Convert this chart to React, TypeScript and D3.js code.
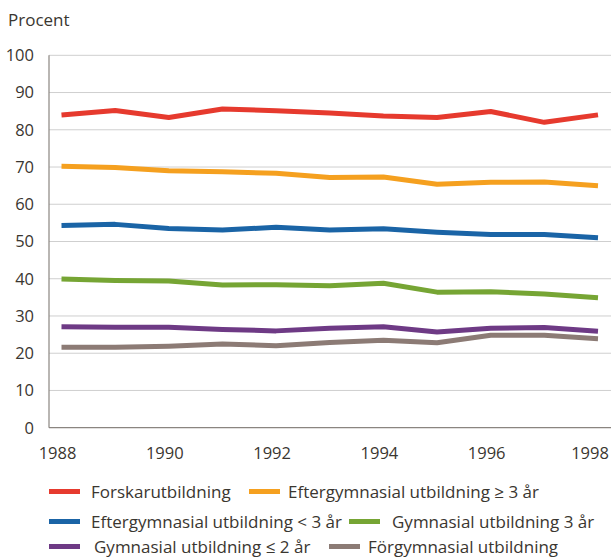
import React from "react";
import * as d3 from "d3";

const years = [1988, 1989, 1990, 1991, 1992, 1993, 1994, 1995, 1996, 1997, 1998];
const xTickYears = [1988, 1990, 1992, 1994, 1996, 1998];
const yTicks = [0, 10, 20, 30, 40, 50, 60, 70, 80, 90, 100];

const seriesNames = [
  "Forskarutbildning",
  "Eftergymnasial utbildning ≥ 3 år",
  "Eftergymnasial utbildning < 3 år",
  "Gymnasial utbildning 3 år",
  "Gymnasial utbildning ≤ 2 år",
  "Förgymnasial utbildning",
];
const seriesColors = ["#e63a2e", "#f5a01f", "#1a64a6", "#76a534", "#6e3a85", "#8c7b75"];

const forskar = [84.0, 85.2, 83.3, 85.6, 85.1, 84.5, 83.7, 83.3, 84.9, 82.0, 84.0];
const efterLong = [70.2, 69.9, 69.0, 68.7, 68.3, 67.2, 67.3, 65.4, 65.9, 66.0, 65.0];
const efterShort = [54.3, 54.6, 53.5, 53.1, 53.8, 53.1, 53.4, 52.5, 51.9, 51.9, 51.0];
const gym3 = [39.9, 39.5, 39.4, 38.3, 38.4, 38.1, 38.8, 36.4, 36.5, 35.9, 34.9];
const gym2 = [27.1, 27.0, 27.0, 26.4, 26.0, 26.7, 27.1, 25.7, 26.7, 26.9, 25.9];
const forgym = [21.6, 21.6, 21.9, 22.5, 22.0, 22.9, 23.5, 22.8, 24.8, 24.8, 23.9];

const seriesValues = [forskar, efterLong, efterShort, gym3, gym2, forgym];

const FONT = "'Open Sans', sans-serif";
const TEXT = "#3a3630";

export default function App() {
  const W = 611;
  const H = 557;
  const axisX = 49;
  const x = d3.scaleLinear().domain([1988, 1998]).range([61.5, 598]);
  const y = d3.scaleLinear().domain([0, 100]).range([427.7, 55.3]);
  const line = d3
    .line<number>()
    .x((_, i) => x(years[i]))
    .y((d) => y(d));

  const legendItems = [
    { sx: 49, tx: 91, row: 0 },
    { sx: 249, tx: 288, row: 0 },
    { sx: 49, tx: 91, row: 1 },
    { sx: 349, tx: 392, row: 1 },
    { sx: 49, tx: 94, row: 2 },
    { sx: 329, tx: 368, row: 2 },
  ];
  const rowY = [491.5, 521.5, 546.5];

  return (
    <svg
      width={W}
      height={H}
      style={{ position: "absolute", left: 0, top: 0, background: "#fff" }}
      fontFamily={FONT}
    >
      <text x={8} y={26} fontSize={17} fill={TEXT}>
        Procent
      </text>
      {yTicks.map((t) => (
        <g key={t}>
          {t > 0 && (
            <line x1={axisX} x2={W} y1={y(t)} y2={y(t)} stroke="#cfcfcf" strokeWidth={1} />
          )}
          <text
            x={34}
            y={y(t)}
            dy="0.36em"
            textAnchor="end"
            fontSize={16.5}
            fill={TEXT}
          >
            {t}
          </text>
        </g>
      ))}
      <line x1={axisX} x2={W} y1={y(0)} y2={y(0)} stroke="#8a8580" strokeWidth={1.2} />
      <line x1={axisX} x2={axisX} y1={y(100)} y2={y(0)} stroke="#8a8580" strokeWidth={1.2} />
      {xTickYears.map((yr) => (
        <text
          key={yr}
          x={Math.min(x(yr) - 4, 590)}
          y={459}
          textAnchor="middle"
          fontSize={16.5}
          fill={TEXT}
        >
          {yr}
        </text>
      ))}
      {seriesValues.map((vals, i) => (
        <path
          key={i}
          d={line(vals) || ""}
          fill="none"
          stroke={seriesColors[i]}
          strokeWidth={5}
          strokeLinejoin="round"
        />
      ))}
      {legendItems.map((it, i) => (
        <g key={i}>
          <line
            x1={it.sx}
            x2={it.sx + 31}
            y1={rowY[it.row]}
            y2={rowY[it.row]}
            stroke={seriesColors[i]}
            strokeWidth={5}
          />
          <text x={it.tx} y={rowY[it.row]} dy="0.36em" fontSize={17} fill={TEXT}>
            {seriesNames[i]}
          </text>
        </g>
      ))}
    </svg>
  );
}
